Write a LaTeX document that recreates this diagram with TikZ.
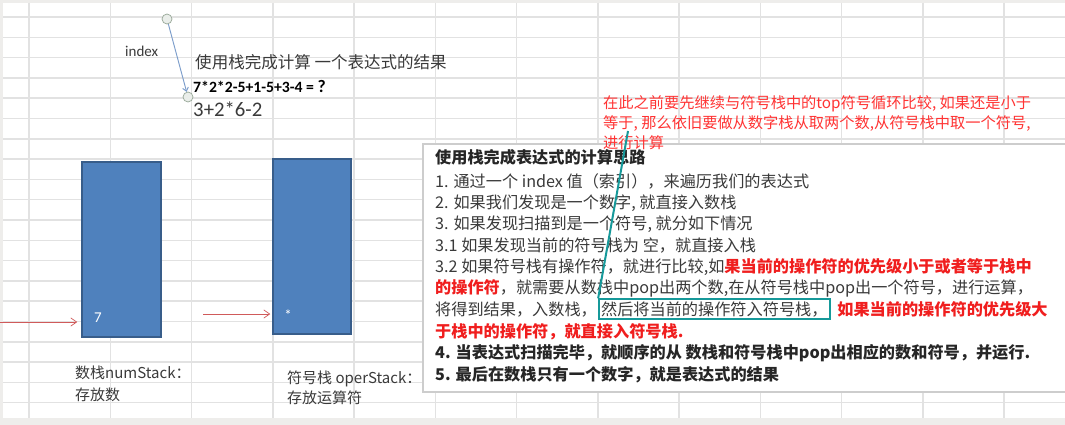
\documentclass[tikz,border=0pt]{standalone}
\usepackage{fontspec}
\setmainfont{Noto Sans CJK SC}
\newfontfamily\latfont{Carlito}
\usepackage{tikz}
\usetikzlibrary{arrows.meta,positioning}
\definecolor{sheetgrey}{HTML}{EEEDEB}
\definecolor{gridgrey}{HTML}{E2E2E2}
\definecolor{stackblue}{HTML}{4F81BD}
\definecolor{stackedge}{HTML}{385D8A}
\definecolor{pushred}{HTML}{D05A5A}
\definecolor{notered}{HTML}{FF3333}
\definecolor{hotred}{HTML}{F01E1E}
\definecolor{markteal}{HTML}{16999A}
\definecolor{ptrblue}{HTML}{7C9DCB}
\definecolor{ptrring}{HTML}{98A898}
\definecolor{inktext}{HTML}{3A3A3A}
\definecolor{boxedge}{HTML}{CDCDCD}
\newcommand\stepfont{\fontsize{13.8}{16}\selectfont}
\newcommand\notefont{\fontsize{13}{16}\selectfont}
\newcommand\hot[1]{\textcolor{hotred}{\bfseries #1}}

\begin{document}
\begin{tikzpicture}[x=0.03cm,y=-0.03cm,
  gridline/.style={gridgrey,line width=0.045cm},
  stackbox/.style={rectangle,draw=stackedge,line width=0.045cm,fill=stackblue,minimum width=2.37cm,minimum height=5.25cm,inner sep=0pt},
  stacktxt/.style={text=white,font=\latfont\fontsize{12.8}{14}\selectfont,inner sep=0pt},
  pusharrow/.style={-{Straight Barb[length=5pt,width=7pt]},pushred,line width=0.6pt},
  ptrdot/.style={circle,draw=ptrring,fill=ptrring!20,line width=0.6pt,minimum size=0.3cm,inner sep=0pt},
  ptrline/.style={-{Straight Barb[length=3pt,width=5pt]},ptrblue,line width=0.8pt},
  steptext/.style={anchor=base west,inner sep=0pt,text=inktext,font=\stepfont},
  notetext/.style={anchor=base west,inner sep=0pt,text=notered,font=\notefont},
  labeltext/.style={anchor=base west,inner sep=0pt,text=inktext,font=\fontsize{12.8}{15}\selectfont},
  hlbox/.style={rectangle,draw=markteal,line width=0.06cm,inner sep=0.06cm,text=inktext,font=\stepfont}]
\useasboundingbox (0,0) rectangle (1065,425);
% sheet and its grid
\fill[sheetgrey] (0,0) rectangle (1065,425);
\fill[white] (3,3) rectangle (1065,418);
\foreach \gx in {0,...,12}
  \draw[gridline] ({29+81.25*\gx},3) -- ({29+81.25*\gx},418);
\foreach \gy in {0,...,19}
  \draw[gridline] (3,{17+20.3*\gy}) -- (1065,{17+20.3*\gy});

% index pointer and the expression
\node[ptrdot] (ptop) at (167,19) {};
\node[ptrdot] (pbot) at (188,97) {};
\draw[ptrline] (ptop) -- (pbot);
\node[anchor=base west,inner sep=0pt,text=inktext,font=\latfont\fontsize{12.8}{14}\selectfont] (idx) at (125,57) {index};
\node[anchor=base west,inner sep=0pt,text=inktext,font=\fontsize{14.1}{16}\selectfont] (task) at (195,69) {使用栈完成计算 一个表达式的结果};
\node[anchor=base west,inner sep=0pt,text=black,font=\latfont\bfseries\fontsize{13.4}{15}\selectfont] (expr) at (193,93) {7*2*2-5+1-5+3-4 = {\fontsize{15}{15}\selectfont ?}};
\node[anchor=base west,inner sep=0pt,text=inktext,font=\latfont\fontsize{17.7}{20}\selectfont] (expr2) at (193,116.5) {3+2*6-2};

% the two stacks
\node[stackbox] (numStack) at (121.5,249.5) {};
\node[stackbox,minimum width=2.34cm] (operStack) at (312,246.5) {};
\node[stacktxt] (num7) at (98,318) {7};
\node[stacktxt] (opstar) at (288,315) {*};
\coordinate (numin) at (0,322);
\coordinate (opin) at (203,314);
\draw[pusharrow,shorten >=0.12cm] (numin) -- (numin -| numStack.west);
\draw[pusharrow,shorten >=0.06cm] (opin) -- (opin -| operStack.west);
\node[labeltext] (numlbl) at (75,378.5) {数栈numStack：};
\node[labeltext] (numlbl2) at (75,400.5) {存放数};
\node[labeltext] (oplbl) at (287,383.5) {符号栈 operStack：};
\node[labeltext] (oplbl2) at (287,403.5) {存放运算符};

% steps box
\fill[white] (423,144) rectangle (1070,392);
\draw[boxedge,line width=0.045cm] (423,144) rectangle (1070,392);
\node[steptext,text=black!85] (s0) at (435,164) {\bfseries 使用栈完成表达式的计算思路};
\node[steptext] (s1) at (435,187) {1. 通过一个 index 值（索引），来遍历我们的表达式};
\node[steptext] (s2) at (435,208) {2. 如果我们发现是一个数字, 就直接入数栈};
\node[steptext] (s3) at (435,229) {3. 如果发现扫描到是一个符号, 就分如下情况};
\node[steptext] (s31) at (435,251) {3.1 如果发现当前的符号栈为 空，就直接入栈};
\node[steptext] (s32) at (435,272) {3.2 如果符号栈有操作符，就进行比较,如\hot{果当前的操作符的优先级小于或者等于栈中}};
\node[steptext] (s32b) at (435,293) {\hot{的操作符}，就需要从数栈中pop出两个数,在从符号栈中pop出一个符号，进行运算，};
\node[steptext] (s32c) at (435,315) {将得到结果，入数栈，};
\node[hlbox,right=0.03cm of s32c] (hl) {然后将当前的操作符入符号栈，};
\node[steptext,right=0.2cm of hl] (s32d) {\hot{如果当前的操作符的优先级大}};
\node[steptext] (s32e) at (435,337) {\hot{于栈中的操作符，就直接入符号栈.}};
\node[steptext,text=black!85] (s4) at (435,358) {\bfseries 4. 当表达式扫描完毕，就顺序的从 数栈和符号栈中pop出相应的数和符号，并运行.};
\node[steptext,text=black!85] (s5) at (435,380) {\bfseries 5. 最后在数栈只有一个数字，就是表达式的结果};

% note in red, over the box
\node[notetext] (note1) at (603,108.5) {在此之前要先继续与符号栈中的top符号循环比较, 如果还是小于};
\node[notetext] (note2) at (603,128.5) {等于, 那么依旧要做从数字栈从取两个数,从符号栈中取一个符号,};
\node[notetext] (note3) at (603,148.5) {进行计算};
\coordinate (tip) at (628,131);
\draw[markteal,line width=0.06cm] (tip) -- (hl.north west);
\end{tikzpicture}
\end{document}
